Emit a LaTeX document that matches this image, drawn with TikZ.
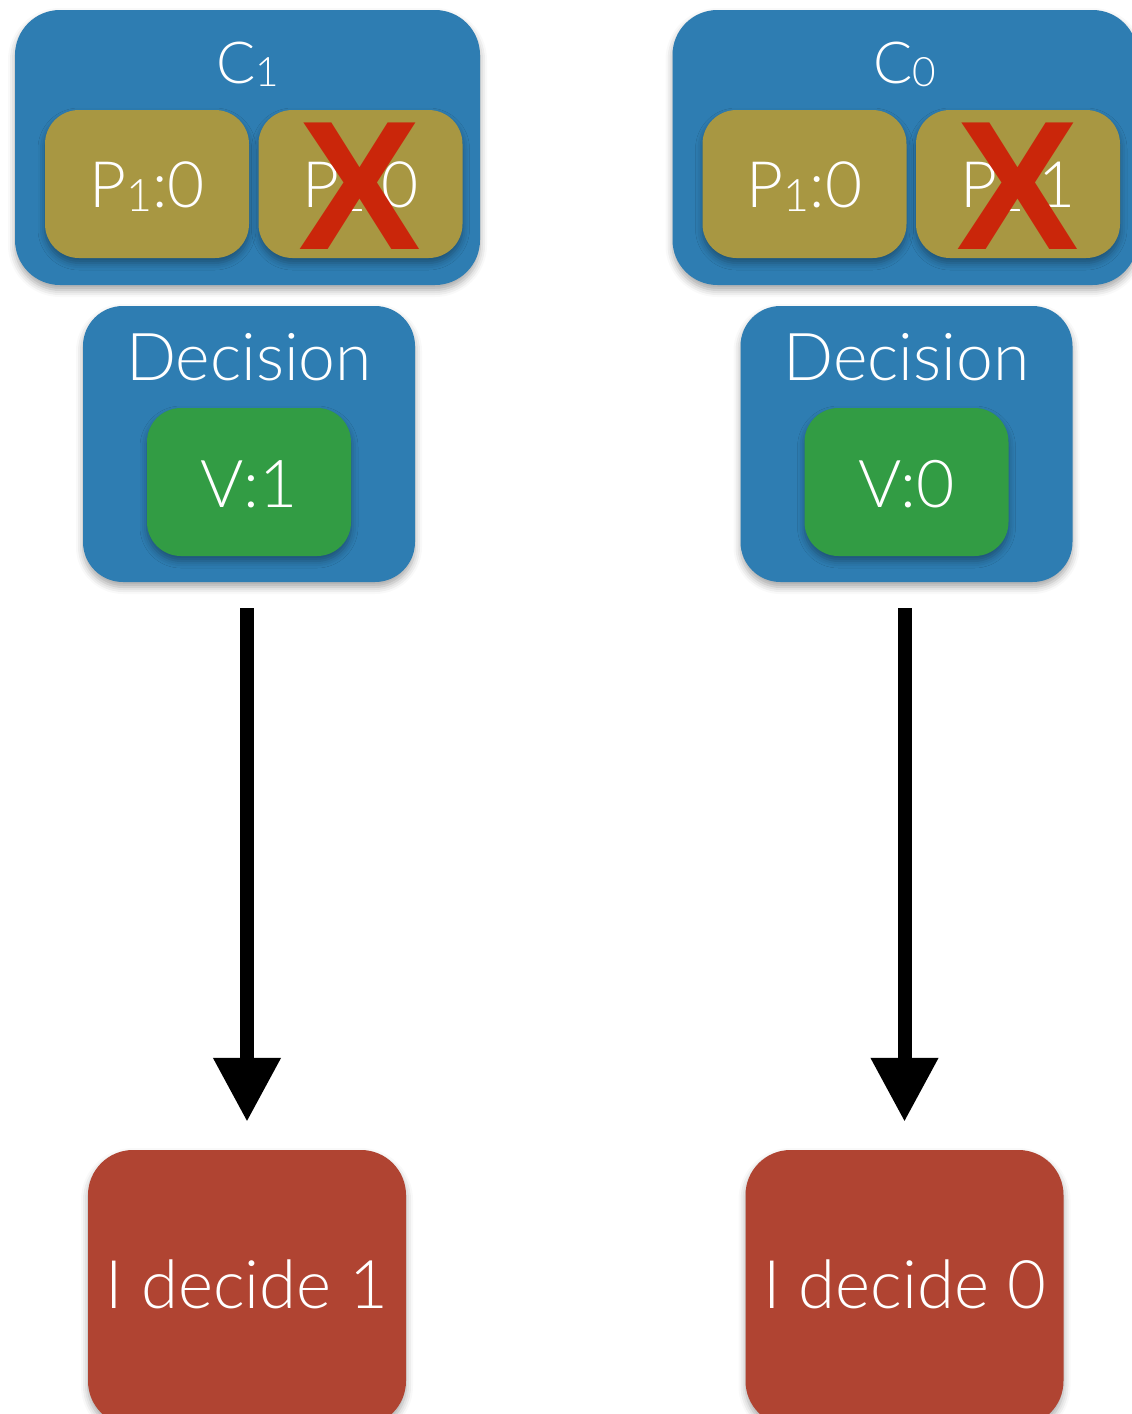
\documentclass[tikz,border=0pt]{standalone}
\usepackage{fontspec}
\setmainfont{Lato}[UprightFont=* Light]
\newfontfamily\crossfont{Liberation Sans}[UprightFont=* Bold]
\usetikzlibrary{arrows.meta,shadows.blur}

\definecolor{consblue}{RGB}{46,125,178}
\definecolor{propolive}{RGB}{168,151,66}
\definecolor{valgreen}{RGB}{50,156,68}
\definecolor{decidered}{RGB}{176,68,50}
\definecolor{crossred}{RGB}{202,38,10}

\newcommand\lowsub[1]{\raisebox{-0.065em}{\scalebox{0.7}{#1}}}

\tikzset{
  card/.style={rounded corners=#1, inner sep=0pt,
    blur shadow={shadow xshift=0pt, shadow yshift=-5pt,
      shadow blur radius=7pt, shadow opacity=35}},
  consbox/.style={card=45pt, fill=consblue, minimum width=465pt, minimum height=275pt},
  propbox/.style={card=34pt, fill=propolive, minimum width=204pt, minimum height=148pt},
  decbox/.style={card=40pt, fill=consblue, minimum width=332pt, minimum height=276pt},
  valbox/.style={card=34pt, fill=valgreen, minimum width=204pt, minimum height=148pt},
  outbox/.style={card=45pt, fill=decidered, minimum width=318pt, minimum height=276pt},
  whitetext/.style={text=white, inner sep=0pt, anchor=base},
  crossmark/.style={text=crossred, inner sep=0pt, font=\crossfont\fontsize{184}{184}\selectfont},
  flow/.style={line width=14pt, -{Triangle[width=64pt,length=64pt]},
    shorten <=26pt, shorten >=28pt}
}

\begin{document}
\begin{tikzpicture}[x=1pt, y=-1pt]
  \useasboundingbox (0,0) rectangle (1132,1414);

  % ---------- left column ----------
  \node[consbox] (cL) at (247.5,147.5) {};
  \node[whitetext, font=\fontsize{58}{58}\selectfont] (cLlabel) at (247.5,83) {C\lowsub{1}};
  \node[propbox] (pLa) at (147,184) {};
  \node[propbox] (pLb) at (360.5,184) {};
  \node[whitetext, font=\fontsize{64}{64}\selectfont] (pLatext) at (147,207) {P\lowsub{1}:0};
  \node[whitetext, font=\fontsize{64}{64}\selectfont] (pLbtext) at (360.5,207) {P\lowsub{2}:0};
  \node[crossmark] (xL) at (360,186) {X};

  \node[decbox] (dL) at (249,444) {};
  \node[whitetext, font=\fontsize{66}{66}\selectfont] (dLlabel) at (249,380) {Decision};
  \node[valbox] (vL) at (249,482) {};
  \node[whitetext, font=\fontsize{66}{66}\selectfont] (vLtext) at (249,507) {V:1};

  \node[outbox] (oL) at (247,1288) {};
  \node[whitetext, font=\fontsize{67}{67}\selectfont] (oLtext) at (247,1308) {I decide 1};

  \draw[flow] (dL.south -| oL.north) -- (oL.north);

  % ---------- right column ----------
  \begin{scope}[xshift=657.5pt]
  \node[consbox] (cR) at (247.5,147.5) {};
  \node[whitetext, font=\fontsize{58}{58}\selectfont] (cRlabel) at (247.5,83) {C\lowsub{0}};
  \node[propbox] (pRa) at (147,184) {};
  \node[propbox] (pRb) at (360.5,184) {};
  \node[whitetext, font=\fontsize{64}{64}\selectfont] (pRatext) at (147,207) {P\lowsub{1}:0};
  \node[whitetext, font=\fontsize{64}{64}\selectfont] (pRbtext) at (360.5,207) {P\lowsub{2}:1};
  \node[crossmark] (xR) at (360,186) {X};

  \node[decbox] (dR) at (249,444) {};
  \node[whitetext, font=\fontsize{66}{66}\selectfont] (dRlabel) at (249,380) {Decision};
  \node[valbox] (vR) at (249,482) {};
  \node[whitetext, font=\fontsize{66}{66}\selectfont] (vRtext) at (249,507) {V:0};

  \node[outbox] (oR) at (247,1288) {};
  \node[whitetext, font=\fontsize{67}{67}\selectfont] (oRtext) at (247,1308) {I decide 0};
  \end{scope}

  \draw[flow] (dR.south -| oR.north) -- (oR.north);
\end{tikzpicture}
\end{document}
